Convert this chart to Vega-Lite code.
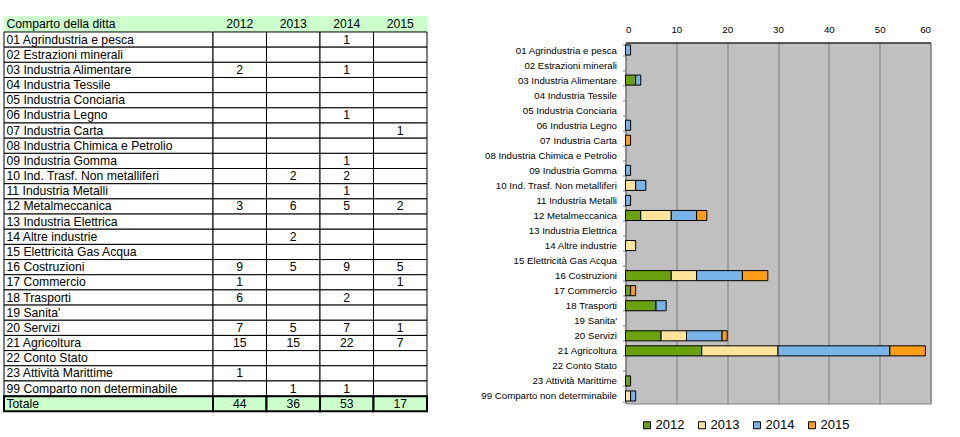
{
  "$schema": "https://vega.github.io/schema/vega-lite/v6.json",
  "background": "white",
  "padding": {"left": 3, "top": 15.5, "right": 2, "bottom": 2},
  "config": {
    "font": "Liberation Sans",
    "view": {"stroke": null},
    "text": {"color": "#000000"}
  },
  "datasets": {
    "rows": [
      {"c": "Comparto della ditta", "kind": "header", "2012": "2012", "2013": "2013", "2014": "2014", "2015": "2015"},
      {"c": "01 Agrindustria e pesca", "kind": "data", "2012": null, "2013": null, "2014": 1, "2015": null},
      {"c": "02 Estrazioni minerali", "kind": "data", "2012": null, "2013": null, "2014": null, "2015": null},
      {"c": "03 Industria Alimentare", "kind": "data", "2012": 2, "2013": null, "2014": 1, "2015": null},
      {"c": "04 Industria Tessile", "kind": "data", "2012": null, "2013": null, "2014": null, "2015": null},
      {"c": "05 Industria Conciaria", "kind": "data", "2012": null, "2013": null, "2014": null, "2015": null},
      {"c": "06 Industria Legno", "kind": "data", "2012": null, "2013": null, "2014": 1, "2015": null},
      {"c": "07 Industria Carta", "kind": "data", "2012": null, "2013": null, "2014": null, "2015": 1},
      {"c": "08 Industria Chimica e Petrolio", "kind": "data", "2012": null, "2013": null, "2014": null, "2015": null},
      {"c": "09 Industria Gomma", "kind": "data", "2012": null, "2013": null, "2014": 1, "2015": null},
      {"c": "10 Ind. Trasf. Non metalliferi", "kind": "data", "2012": null, "2013": 2, "2014": 2, "2015": null},
      {"c": "11 Industria Metalli", "kind": "data", "2012": null, "2013": null, "2014": 1, "2015": null},
      {"c": "12 Metalmeccanica", "kind": "data", "2012": 3, "2013": 6, "2014": 5, "2015": 2},
      {"c": "13 Industria Elettrica", "kind": "data", "2012": null, "2013": null, "2014": null, "2015": null},
      {"c": "14 Altre industrie", "kind": "data", "2012": null, "2013": 2, "2014": null, "2015": null},
      {"c": "15 Elettricità Gas Acqua", "kind": "data", "2012": null, "2013": null, "2014": null, "2015": null},
      {"c": "16 Costruzioni", "kind": "data", "2012": 9, "2013": 5, "2014": 9, "2015": 5},
      {"c": "17 Commercio", "kind": "data", "2012": 1, "2013": null, "2014": null, "2015": 1},
      {"c": "18 Trasporti", "kind": "data", "2012": 6, "2013": null, "2014": 2, "2015": null},
      {"c": "19 Sanita'", "kind": "data", "2012": null, "2013": null, "2014": null, "2015": null},
      {"c": "20 Servizi", "kind": "data", "2012": 7, "2013": 5, "2014": 7, "2015": 1},
      {"c": "21 Agricoltura", "kind": "data", "2012": 15, "2013": 15, "2014": 22, "2015": 7},
      {"c": "22 Conto Stato", "kind": "data", "2012": null, "2013": null, "2014": null, "2015": null},
      {"c": "23 Attività Marittime", "kind": "data", "2012": 1, "2013": null, "2014": null, "2015": null},
      {"c": "99 Comparto non determinabile", "kind": "data", "2012": null, "2013": 1, "2014": 1, "2015": null},
      {"c": "Totale", "kind": "total", "2012": 44, "2013": 36, "2014": 53, "2015": 17}
    ]
  },
  "spacing": 51.5,
  "hconcat": [
    {
      "bounds": "flush",
      "spacing": 0,
      "hconcat": [
        {
          "width": 209,
          "height": 368.8,
          "data": {"name": "rows"},
          "encoding": {
            "y": {"field": "c", "type": "nominal", "sort": null, "axis": null, "scale": {"paddingInner": 0, "paddingOuter": 0, "range": [-25.7, 368.8]}}
          },
          "layer": [
            {
              "mark": {"type": "rect"},
              "encoding": {
                "fill": {"condition": {"test": "datum.kind !== 'data'", "value": "#ccffcc"}, "value": "#ffffff"},
                "stroke": {"condition": {"test": "datum.kind === 'header'", "value": "#ccffcc"}, "value": "#000000"},
                "strokeWidth": {"condition": {"test": "datum.kind === 'total'", "value": 2}, "value": 1}
              }
            },
            {
              "mark": {"type": "text", "align": "left", "baseline": "middle", "dx": 2.5, "fontSize": 12.2},
              "encoding": {
                "x": {"datum": 0, "type": "quantitative", "scale": {"domain": [0, 1]}, "axis": null},
                "text": {"field": "c", "type": "nominal"},
                "fontWeight": {"condition": {"test": "datum.kind !== 'data'", "value": "bold"}, "value": "normal"}
              }
            }
          ]
        },
        {
          "width": 214,
          "height": 368.8,
          "data": {"name": "rows"},
          "transform": [{"fold": ["2012", "2013", "2014", "2015"], "as": ["year", "value"]}],
          "encoding": {
            "x": {"field": "year", "type": "nominal", "axis": null, "scale": {"paddingInner": 0, "paddingOuter": 0}},
            "y": {"field": "c", "type": "nominal", "sort": null, "axis": null, "scale": {"paddingInner": 0, "paddingOuter": 0, "range": [-25.7, 368.8]}}
          },
          "layer": [
            {
              "mark": {"type": "rect"},
              "encoding": {
                "fill": {"condition": {"test": "datum.kind !== 'data'", "value": "#ccffcc"}, "value": "#ffffff"},
                "stroke": {"condition": {"test": "datum.kind === 'header'", "value": "#ccffcc"}, "value": "#000000"},
                "strokeWidth": {"condition": {"test": "datum.kind === 'total'", "value": 2}, "value": 1}
              }
            },
            {
              "mark": {"type": "text", "align": "center", "baseline": "middle", "fontSize": 12.2},
              "encoding": {
                "text": {"condition": {"test": "!isValid(datum.value)", "value": ""}, "field": "value", "type": "nominal"},
                "fontWeight": {"condition": {"test": "datum.kind !== 'data'", "value": "bold"}, "value": "normal"}
              }
            }
          ]
        }
      ]
    },
    {
      "width": 305,
      "height": 361,
      "view": {"fill": "#c0c0c0", "stroke": "#808080"},
      "data": {"name": "rows"},
      "transform": [
        {"filter": "datum.kind === 'data'"},
        {"fold": ["2012", "2013", "2014", "2015"], "as": ["year", "value"]}
      ],
      "mark": {"type": "bar", "stroke": "#000000", "strokeWidth": 1, "invalid": "show"},
      "encoding": {
        "y": {
          "field": "c", "type": "nominal", "sort": null, "title": null,
          "scale": {"paddingInner": 0.33, "paddingOuter": 0.165},
          "axis": {"labelFontSize": 9.7, "labelColor": "#000000", "tickBand": "extent", "tickSize": 3, "tickColor": "#808080", "domainColor": "#808080", "labelPadding": 6, "labelLimit": 300}
        },
        "x": {
          "field": "value", "type": "quantitative", "stack": "zero", "title": null,
          "scale": {"domain": [0, 60], "nice": false},
          "axis": {"orient": "top", "values": [0, 10, 20, 30, 40, 50, 60], "labelFontSize": 9.7, "labelColor": "#000000", "grid": true, "gridColor": "#7f7f7f", "domainColor": "#000000", "ticks": false, "labelPadding": 8}
        },
        "color": {
          "field": "year", "type": "nominal",
          "scale": {"domain": ["2012", "2013", "2014", "2015"], "range": ["#6aa10e", "#ffe49a", "#78b4ea", "#ff9d14"]},
          "legend": {"orient": "none", "legendX": 636.5, "legendY": 376, "direction": "horizontal", "title": null, "symbolType": "square", "symbolSize": 49, "symbolStrokeColor": "#000000", "symbolStrokeWidth": 1, "labelFontSize": 13, "labelOffset": 2, "columnPadding": 11, "padding": 0}
        },
        "strokeOpacity": {"condition": {"test": "!isValid(datum.value)", "value": 0}, "value": 1}
      }
    }
  ]
}
